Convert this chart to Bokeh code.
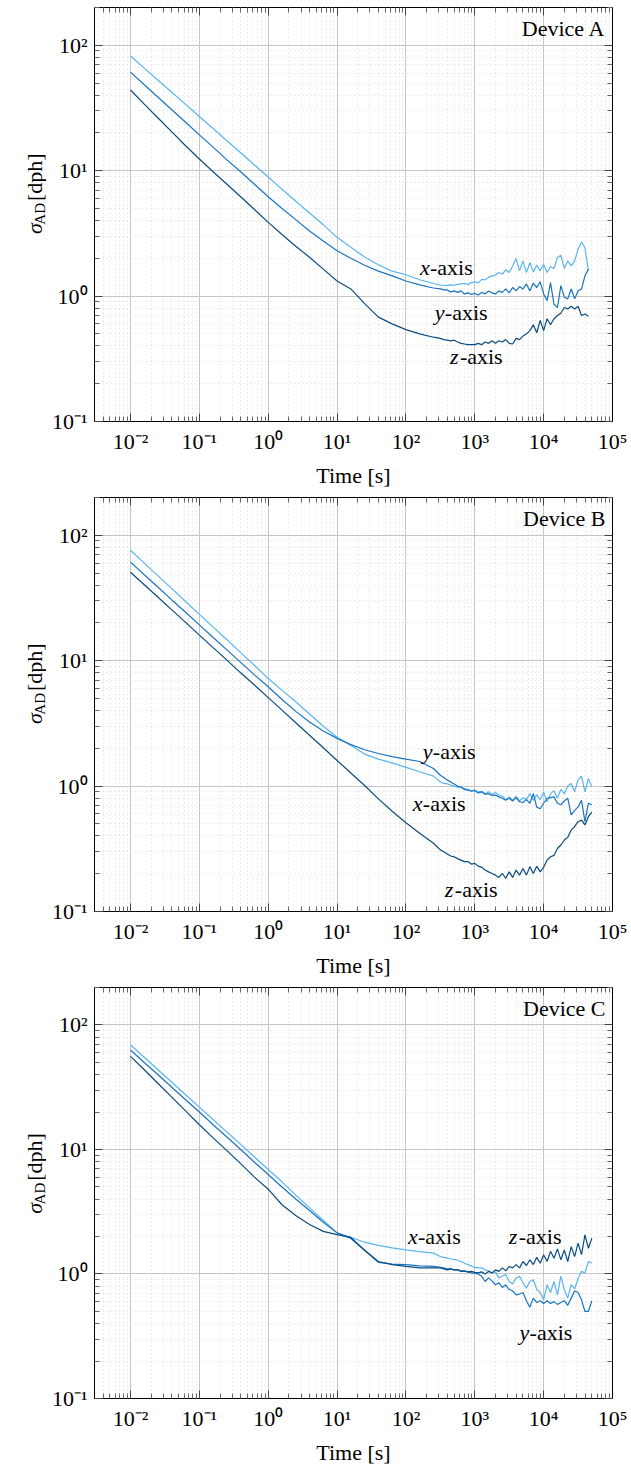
import math
from bokeh.plotting import figure
from bokeh.layouts import column, row
from bokeh.models import Range1d, FixedTicker, LogAxis, Label, CustomJSTickFormatter
from bokeh.core.properties import value
from bokeh.embed import file_html
from bokeh.resources import INLINE

# ---------------- data ----------------
LOG_TAU = [-2.0, -1.8, -1.6, -1.4, -1.2, -1.0, -0.8, -0.6, -0.4, -0.2, 0.0, 0.2, 0.4, 0.6, 0.8,
           1.0, 1.2, 1.4, 1.6, 1.8, 2.0, 2.2, 2.4,
           2.5, 2.55, 2.6, 2.65, 2.7, 2.75, 2.8, 2.85, 2.9, 2.95, 3.0, 3.05, 3.1, 3.15, 3.2, 3.25,
           3.3, 3.35, 3.4, 3.45, 3.5, 3.55, 3.6, 3.65, 3.7, 3.75, 3.8, 3.85, 3.9, 3.95, 4.0, 4.05,
           4.1, 4.15, 4.2, 4.25, 4.3, 4.35, 4.4, 4.45, 4.5, 4.55, 4.6, 4.65, 4.7]

A_X = [82, 65.7, 52.6, 42.2, 33.8, 27.0, 21.7, 17.3, 13.9, 11.1, 8.9, 7.1, 5.7, 4.6, 3.7, 2.94, 2.45, 2.05,
       1.78, 1.58, 1.48, 1.35, 1.26,
       1.22, 1.22, 1.21, 1.23, 1.22, 1.24, 1.25, 1.26, 1.24, 1.28, 1.30, 1.27, 1.36, 1.35, 1.41, 1.45,
       1.47, 1.54, 1.50, 1.62, 1.54, 1.74, 1.99, 1.59, 1.91, 1.54, 1.85, 1.56, 1.76, 1.59, 1.79, 1.54,
       1.72, 1.66, 2.03, 2.12, 1.66, 1.91, 1.74, 1.91, 2.36, 2.70, 2.43, 1.59]
A_Y = [61, 48.4, 38.5, 30.6, 24.3, 19.3, 15.4, 12.2, 9.8, 7.8, 6.2, 5.0, 4.07, 3.3, 2.75, 2.3, 2.0, 1.76,
       1.58, 1.45, 1.32, 1.23, 1.16,
       1.14, 1.12, 1.12, 1.08, 1.10, 1.07, 1.10, 1.04, 1.06, 1.03, 1.05, 1.02, 1.07, 1.04, 1.10, 1.06,
       1.04, 1.10, 1.07, 1.14, 1.06, 1.17, 1.10, 1.19, 1.14, 1.25, 1.10, 1.27, 1.17, 1.30, 1.04, 0.92,
       1.28, 0.86, 0.81, 1.21, 0.98, 0.95, 1.14, 0.95, 1.10, 1.14, 1.45, 1.64]
A_Z = [44, 33.9, 26.3, 20.4, 15.8, 12.4, 9.8, 7.8, 6.2, 4.9, 3.87, 3.1, 2.5, 2.04, 1.64, 1.32, 1.14, 0.87,
       0.68, 0.60, 0.54, 0.50, 0.47,
       0.46, 0.45, 0.445, 0.44, 0.445, 0.43, 0.42, 0.415, 0.41, 0.41, 0.41, 0.42, 0.41, 0.43, 0.42, 0.44,
       0.42, 0.44, 0.43, 0.45, 0.42, 0.415, 0.46, 0.45, 0.48, 0.50, 0.53, 0.59, 0.51, 0.64, 0.53, 0.66,
       0.59, 0.66, 0.70, 0.73, 0.81, 0.79, 0.83, 0.79, 0.83, 0.70, 0.72, 0.69]

B_X = [75.9, 60.0, 47.4, 37.5, 29.6, 23.4, 18.5, 14.7, 11.6, 9.2, 7.2, 5.8, 4.7, 3.76, 3.0, 2.45, 2.11, 1.80,
       1.64, 1.53, 1.41, 1.30, 1.20,
       1.08, 1.05, 1.04, 1.02, 1.0, 0.98, 0.99, 0.95, 0.94, 0.92, 0.93, 0.90, 0.91, 0.87, 0.90, 0.86,
       0.89, 0.85, 0.83, 0.78, 0.82, 0.77, 0.83, 0.76, 0.81, 0.78, 0.87, 0.77, 0.85, 0.78, 0.90, 0.75,
       0.87, 0.92, 0.80, 0.94, 0.87, 1.0, 1.05, 0.90, 1.12, 1.20, 0.90, 1.15, 0.99]
B_Y = [61, 48.4, 38.5, 30.5, 24.3, 19.3, 15.3, 12.2, 9.7, 7.7, 6.2, 4.9, 3.94, 3.24, 2.75, 2.4, 2.14, 1.95,
       1.82, 1.72, 1.64, 1.57, 1.38,
       1.22, 1.17, 1.12, 1.08, 1.04, 1.0, 0.98, 0.94, 0.93, 0.91, 0.92, 0.88, 0.90, 0.86, 0.87, 0.84,
       0.85, 0.82, 0.80, 0.77, 0.80, 0.76, 0.81, 0.75, 0.74, 0.78, 0.73, 0.87, 0.68, 0.66, 0.73, 0.80,
       0.81, 0.82, 0.73, 0.71, 0.76, 0.80, 0.59, 0.64, 0.68, 0.77, 0.52, 0.73, 0.71]
B_Z = [50.7, 40.3, 32.0, 25.4, 20.2, 16.0, 12.7, 10.1, 8.0, 6.4, 5.07, 4.03, 3.2, 2.54, 2.02, 1.60, 1.27,
       1.01, 0.79, 0.63, 0.51, 0.42, 0.35,
       0.31, 0.30, 0.287, 0.277, 0.273, 0.264, 0.257, 0.25, 0.25, 0.239, 0.242, 0.23, 0.225, 0.214,
       0.207, 0.201, 0.195, 0.187, 0.201, 0.184, 0.207, 0.187, 0.214, 0.195, 0.22, 0.195, 0.228, 0.201,
       0.23, 0.207, 0.225, 0.257, 0.273, 0.28, 0.318, 0.339, 0.371, 0.39, 0.446, 0.475, 0.52, 0.535,
       0.49, 0.57, 0.62]

C_X = [69, 55, 43.7, 34.7, 27.5, 21.9, 17.4, 13.8, 11.0, 8.7, 6.9, 5.5, 4.3, 3.4, 2.7, 2.14, 1.97, 1.80,
       1.70, 1.62, 1.56, 1.51, 1.47,
       1.38, 1.36, 1.34, 1.32, 1.31, 1.29, 1.26, 1.22, 1.19, 1.16, 1.13, 1.12, 1.12, 1.08, 1.06, 1.02,
       1.04, 0.93, 0.96, 0.99, 0.87, 0.83, 0.93, 0.96, 0.85, 0.77, 0.87, 0.90, 0.75, 0.71, 0.62, 0.82,
       0.71, 0.87, 0.68, 0.96, 0.75, 0.64, 0.82, 0.76, 0.92, 1.05, 1.02, 1.26, 1.22]
C_Y = [63, 50, 39.8, 31.6, 25.1, 20.0, 15.8, 12.6, 10.0, 7.9, 6.3, 5.0, 4.0, 3.24, 2.6, 2.14, 1.93, 1.55,
       1.24, 1.20, 1.19, 1.16, 1.15,
       1.13, 1.12, 1.10, 1.10, 1.08, 1.08, 1.06, 1.05, 1.04, 1.02, 1.01, 1.0, 0.96, 0.87, 0.93, 0.88,
       0.82, 0.85, 0.78, 0.82, 0.75, 0.73, 0.68, 0.69, 0.71, 0.61, 0.54, 0.64, 0.59, 0.61, 0.58, 0.61,
       0.58, 0.60, 0.57, 0.59, 0.61, 0.56, 0.64, 0.73, 0.71, 0.62, 0.50, 0.50, 0.61]
C_Z = [56, 43.7, 33.9, 26.3, 20.4, 15.8, 12.4, 9.8, 7.7, 6.0, 4.8, 3.6, 2.95, 2.5, 2.2, 2.07, 1.97, 1.55,
       1.26, 1.19, 1.15, 1.12, 1.12,
       1.12, 1.10, 1.08, 1.10, 1.08, 1.08, 1.05, 1.06, 1.04, 1.05, 1.03, 1.02, 1.04, 1.0, 1.05, 1.02,
       1.08, 1.05, 1.12, 1.06, 1.15, 1.12, 1.19, 1.12, 1.26, 1.17, 1.30, 1.19, 1.36, 1.22, 1.43, 1.26,
       1.52, 1.34, 1.59, 1.30, 1.56, 1.26, 1.66, 1.38, 1.77, 1.43, 2.06, 1.61, 1.94]

DEVICES = ["Device A", "Device B", "Device C"]
SERIES = [(A_X, A_Y, A_Z), (B_X, B_Y, B_Z), (C_X, C_Y, C_Z)]
AXIS_LETTERS = ["x", "y", "z"]
# curve-label anchors (tau, sigma) for x, y, z labels of each device
LABEL_POS = [
    [(160, 1.70), (263, 0.746), (435, 0.328)],
    [(126, 0.72), (176, 1.87), (367, 0.151)],
    [(107, 2.01), (4470, 0.339), (3110, 2.01)],
]

X_TICK_EXP = [-2, -1, 0, 1, 2, 3, 4, 5]
X_TICK_LABELS = ["10\u207b\u00b2", "10\u207b\u00b9", "10\u2070", "10\u00b9", "10\u00b2", "10\u00b3",
                 "10\u2074", "10\u2075"]
Y_TICK_EXP = [-1, 0, 1, 2]
Y_TICK_LABELS = ["10\u207b\u00b9", "10\u2070", "10\u00b9", "10\u00b2"]

X_LABEL = "Time [s]"
Y_LABEL_PARTS = ["\u03c3", "AD", "[dph]"]
COLORS = ["#5ab5ee", "#1a74c0", "#0c4b7d"]

# ---------------- styling ----------------
X_MIN, X_MAX = 0.003, 1e5
Y_MIN, Y_MAX = 0.1, 200
FONT = "Liberation Serif"
FS = "22px"
TOTAL_W = 631
LAB_W = 46                 # strip holding the rotated y label
FRAME_L, FRAME_T, FRAME_W, FRAME_H = 94, 7, 518, 416


def fx(px):
    lo, hi = math.log10(X_MIN), math.log10(X_MAX)
    return 10 ** (lo + (px - FRAME_L) / FRAME_W * (hi - lo))


def fy(py):
    lo, hi = math.log10(Y_MIN), math.log10(Y_MAX)
    return 10 ** (hi - (py - FRAME_T) / FRAME_H * (hi - lo))


x_major = [10.0 ** e for e in range(-3, 6)]
x_minor = [m * 10.0 ** e for e in range(-3, 5) for m in range(2, 10)]
y_major = [10.0 ** e for e in range(-1, 3)]
y_minor = [m * 10.0 ** e for e in range(-1, 3) for m in range(2, 10)]


def label_fmt(exps, labels):
    return CustomJSTickFormatter(args=dict(exps=exps, labs=labels), code="""
        const e = Math.round(Math.log10(tick));
        const i = exps.indexOf(e);
        return i >= 0 ? labs[i] : '';
    """)


def style_axis(ax, ticks, minor, show):
    ax.ticker = FixedTicker(ticks=ticks, minor_ticks=minor)
    ax.major_tick_in = 8
    ax.major_tick_out = 0
    ax.minor_tick_in = 5
    ax.minor_tick_out = 0
    ax.major_tick_line_color = "#444444"
    ax.minor_tick_line_color = "#666666"
    ax.axis_line_color = "black"
    if not show:
        ax.formatter = CustomJSTickFormatter(code="return '';")
        ax.major_label_text_font_size = "0px"
        ax.major_label_standoff = 0


def make_label_strip(height):
    lf = figure(width=LAB_W, height=height, x_range=Range1d(0, LAB_W), y_range=Range1d(height, 0),
                output_backend="svg", toolbar_location=None,
                x_axis_location=None, y_axis_location=None, min_border=0)
    lf.outline_line_color = None
    lf.xgrid.visible = False
    lf.ygrid.visible = False
    lf.text(x=[34], y=[268], text=[Y_LABEL_PARTS[0]], angle=math.pi / 2,
            text_font=value(FONT), text_font_size=value(FS), text_font_style="italic",
            text_baseline="alphabetic", text_align="left", text_color="black")
    lf.text(x=[39], y=[257], text=[Y_LABEL_PARTS[1]], angle=math.pi / 2,
            text_font=value(FONT), text_font_size=value("15px"),
            text_baseline="alphabetic", text_align="left", text_color="black")
    lf.text(x=[34], y=[229], text=[Y_LABEL_PARTS[2]], angle=math.pi / 2,
            text_font=value(FONT), text_font_size=value(FS),
            text_baseline="alphabetic", text_align="left", text_color="black")
    return lf


def make_panel(idx, height, bottom):
    p = figure(width=TOTAL_W - LAB_W, height=height, x_axis_type="log", y_axis_type="log",
               x_range=Range1d(X_MIN, X_MAX), y_range=Range1d(Y_MIN, Y_MAX),
               output_backend="svg", toolbar_location=None,
               min_border_left=FRAME_L - LAB_W, min_border_right=TOTAL_W - FRAME_L - FRAME_W,
               min_border_top=FRAME_T, min_border_bottom=bottom)
    p.outline_line_color = "black"
    p.outline_line_width = 1
    p.background_fill_color = "white"
    p.border_fill_color = "white"

    for g in (p.xgrid, p.ygrid):
        g.grid_line_color = "#c6c6c6"
        g.grid_line_width = 1
        g.minor_grid_line_color = "#dadada"
        g.minor_grid_line_dash = "1 3"
        g.minor_grid_line_width = 1

    style_axis(p.xaxis[0], x_major, x_minor, True)
    style_axis(p.yaxis[0], y_major, y_minor, True)
    p.xaxis[0].formatter = label_fmt(X_TICK_EXP, X_TICK_LABELS)
    p.yaxis[0].formatter = label_fmt(Y_TICK_EXP, Y_TICK_LABELS)
    for ax in (p.xaxis[0], p.yaxis[0]):
        ax.major_label_text_font = FONT
        ax.major_label_text_font_size = FS
        ax.major_label_text_color = "black"
        ax.major_label_standoff = 7
    p.xgrid.ticker = p.xaxis[0].ticker
    p.ygrid.ticker = p.yaxis[0].ticker

    p.xaxis[0].axis_label = X_LABEL
    p.xaxis[0].axis_label_text_font = FONT
    p.xaxis[0].axis_label_text_font_size = FS
    p.xaxis[0].axis_label_text_font_style = "normal"
    p.xaxis[0].axis_label_text_color = "black"
    p.xaxis[0].axis_label_standoff = 6

    top = LogAxis()
    style_axis(top, x_major, x_minor, False)
    p.add_layout(top, "above")
    right = LogAxis()
    style_axis(right, y_major, y_minor, False)
    p.add_layout(right, "right")

    tau = [10.0 ** e for e in LOG_TAU]
    for vals, col in zip(SERIES[idx], COLORS):
        p.line(tau[:len(vals)], vals, line_color=col, line_width=1.2)

    # curve labels
    for letter, (lx, ly) in zip(AXIS_LETTERS, LABEL_POS[idx]):
        p.add_layout(Label(x=lx, y=ly, text=letter, text_font=FONT, text_font_size=FS,
                           text_font_style="italic", text_baseline="middle", text_align="left",
                           text_color="black"))
        p.add_layout(Label(x=lx, y=ly, x_offset=10, text="-axis", text_font=FONT, text_font_size=FS,
                           text_baseline="middle", text_align="left", text_color="black"))

    # device name
    p.add_layout(Label(x=fx(605), y=fy(28), text=DEVICES[idx], text_font=FONT, text_font_size=FS,
                       text_baseline="middle", text_align="right", text_color="black"))
    return p


heights = [(490, 67), (490, 67), (487, 64)]
rows = []
for i, (h, b) in enumerate(heights):
    rows.append(row(make_label_strip(h), make_panel(i, h, b), spacing=0))
layout = column(*rows, spacing=0)

open("out.html", "w").write(file_html(layout, INLINE))
